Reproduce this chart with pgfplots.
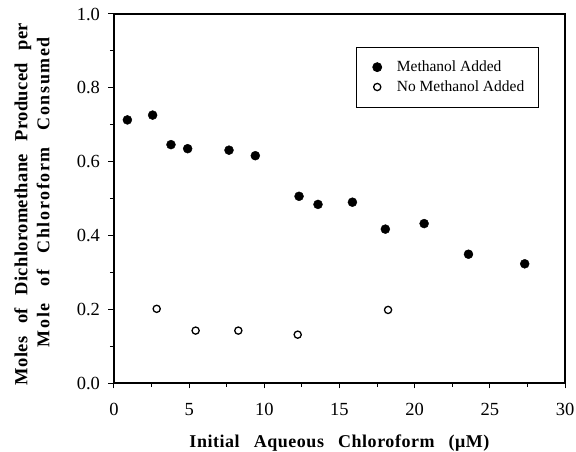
\documentclass[border=0pt]{standalone}
\usepackage{fontspec}
\setmainfont{Liberation Serif}
\newfontfamily\xlblfont[LetterSpace=3]{Liberation Serif}
\newfontfamily\ylblfonta[LetterSpace=2]{Liberation Serif}
\newfontfamily\ylblfontb[LetterSpace=9]{Liberation Serif}
\usepackage{pgfplots}
\pgfplotsset{compat=1.18}
\begin{document}
\begin{tikzpicture}
\begin{axis}[
  scale only axis,
  width=451bp, height=369bp,
  xmin=0, xmax=30, ymin=0, ymax=1.0,
  xtick={0,5,...,30}, ytick={0,0.2,...,1.0},
  minor x tick num=1, minor y tick num=1,
  xtick pos=bottom, ytick pos=left,
  tick align=outside,
  major tick length=5.5bp, minor tick length=4bp,
  /pgf/number format/assume math mode=true,
  tick label style={font=\fontsize{18.5bp}{20bp}\selectfont},
  yticklabel style={xshift=-5bp, /pgf/number format/.cd, fixed, fixed zerofill, precision=1},
  xticklabel style={yshift=-11bp},
  axis line style={line width=0.8pt},
  x axis line style={line width=1.3pt},
  y axis line style={line width=1.3pt},
  tick style={line width=1pt, black},
  xlabel={\makebox[300bp][s]{Initial Aqueous Chloroform (μM)}},
  xlabel style={at={(axis description cs:0.5,0)}, anchor=base, yshift=-64bp,
    font=\fontsize{18bp}{19bp}\selectfont\xlblfont\bfseries},
  ylabel={{\ylblfonta\bfseries\fontsize{18.5bp}{22bp}\selectfont\makebox[362bp][s]{Moles of Dichloromethane Produced per}}\\
          \hspace*{24bp}{\ylblfontb\bfseries\makebox[310bp][s]{Mole of Chloroform Consumed}}},
  ylabel style={at={(axis description cs:-0.1818,0.485)}, anchor=center, align=center,
    font=\fontsize{18bp}{22bp}\selectfont\bfseries},
  legend image code/.code={\path (-20bp,0bp) (19bp,0bp); \draw[#1] plot coordinates {(0bp,0bp)};},
  legend style={at={(0.537,0.911)}, anchor=north west, draw=black, line width=0.8pt,
    font=\fontsize{15.5bp}{18bp}\selectfont, inner xsep=0bp, inner ysep=10bp,
    row sep=0bp, nodes={inner xsep=0bp, inner ysep=3.8bp}},
  legend cell align=left,
]
\addplot[only marks, mark=*, mark size=4.5bp, black] coordinates {
(0.89,0.713) (2.57,0.726) (3.79,0.646) (4.90,0.635) (7.65,0.631) (9.40,0.616)
(12.31,0.506) (13.57,0.484) (15.86,0.490) (18.05,0.417) (20.63,0.432)
(23.58,0.349) (27.32,0.323)};
\addlegendentry{Methanol Added}
\addplot[only marks, mark=o, mark size=3.6bp, line width=1.3pt, black] coordinates {
(2.84,0.201) (5.43,0.142) (8.27,0.142) (12.22,0.131) (18.23,0.198)};
\addlegendentry{No Methanol Added\rule{14bp}{0pt}}
\end{axis}
\pgfresetboundingbox
\path[use as bounding box] ([shift={(-114bp,-69bp)}]current axis.south west) rectangle ([shift={(11bp,14bp)}]current axis.north east);
\end{tikzpicture}
\end{document}
